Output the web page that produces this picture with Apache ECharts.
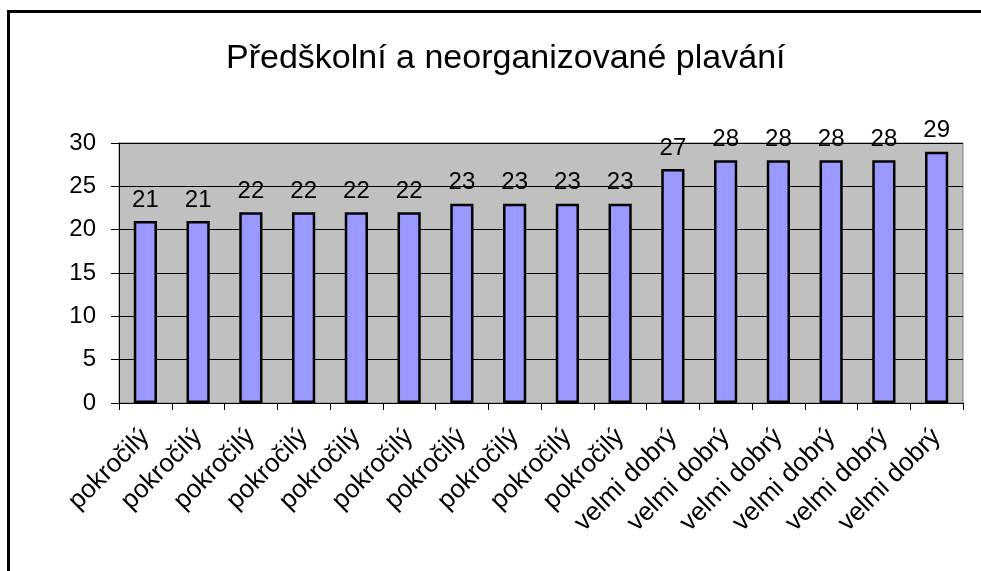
<html>
<head>
    <meta charset="utf-8">
    <title>Předškolní a neorganizované plavání</title>
    <script src="https://cdn.jsdelivr.net/npm/echarts@6/dist/echarts.min.js"></script>
    <style>
        body { margin: 0; background: #fff; }
        #frame { position: absolute; left: 7px; top: 10px; width: 974px; height: 561px;
                 border-left: 3px solid #000; border-top: 3px solid #000; }
        #main { position: absolute; left: 0; top: 0; width: 981px; height: 571px; }
    </style>
</head>
<body>
<div id="frame"></div>
<div id="main"></div>
<script type="text/javascript">
    // data
    var categories = ['pokročilý', 'pokročilý', 'pokročilý', 'pokročilý', 'pokročilý',
        'pokročilý', 'pokročilý', 'pokročilý', 'pokročilý', 'pokročilý',
        'velmi dobrý', 'velmi dobrý', 'velmi dobrý', 'velmi dobrý', 'velmi dobrý', 'velmi dobrý'];
    var values = [21, 21, 22, 22, 22, 22, 23, 23, 23, 23, 27, 28, 28, 28, 28, 29];
    var titleText = 'Předškolní a neorganizované plavání';

    var font = '"Liberation Sans", Arial, sans-serif';
    var myChart = echarts.init(document.getElementById('main'), null, {renderer: 'canvas'});
    var option = {
        animation: false,
        title: {
            text: titleText,
            left: 221,
            top: 37,
            textStyle: {fontFamily: font, fontSize: 34, fontWeight: 'normal', color: '#000'}
        },
        grid: {
            left: 119,
            right: 18,
            top: 143,
            bottom: 168,
            show: true,
            backgroundColor: '#C0C0C0',
            borderColor: '#808080',
            borderWidth: 1
        },
        xAxis: {
            type: 'category',
            data: categories,
            axisLine: {lineStyle: {color: '#000', width: 1}},
            axisTick: {show: true, length: 7, lineStyle: {color: '#000'}},
            axisLabel: {
                interval: 0,
                rotate: 45,
                margin: 30,
                fontFamily: font,
                fontSize: 26,
                color: '#000'
            }
        },
        yAxis: {
            type: 'value',
            min: 0,
            max: 30,
            interval: 5,
            axisLine: {show: true, lineStyle: {color: '#000', width: 1}},
            axisTick: {show: true, length: 8, lineStyle: {color: '#000'}},
            axisLabel: {margin: 23, fontFamily: font, fontSize: 24, color: '#000'},
            splitLine: {show: true, lineStyle: {color: '#000', width: 1}}
        },
        series: [{
            type: 'bar',
            data: values,
            barWidth: '44%',
            itemStyle: {color: '#9999FF', borderColor: '#000', borderWidth: 2.5},
            label: {
                show: true,
                position: 'top',
                distance: 9,
                fontFamily: font,
                fontSize: 24,
                color: '#000'
            }
        }]
    };
    myChart.setOption(option);
</script>
</body>
</html>
